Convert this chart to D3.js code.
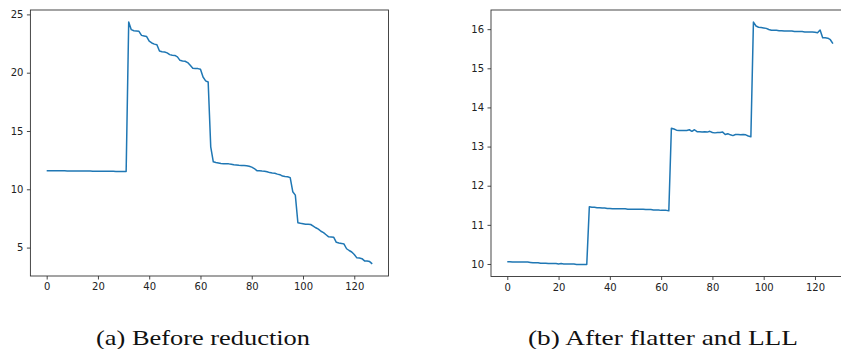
<!DOCTYPE html>
<html>
<head>
<meta charset="utf-8">
<script src="https://cdn.jsdelivr.net/npm/d3@7"></script>
<style>
    body { margin: 0; background: #fff; }
    svg { display: block; }
</style>
</head>
<body>
<div id="chart"></div>
<script>
// 数据 - 从图片读取
const beforeValues = [
    11.59, 11.59, 11.59, 11.58, 11.58, 11.58, 11.58, 11.58, 11.57, 11.57,
    11.57, 11.57, 11.57, 11.56, 11.56, 11.56, 11.56, 11.56, 11.55, 11.55,
    11.55, 11.55, 11.55, 11.55, 11.54, 11.54, 11.54, 11.53, 11.53, 11.53,
    11.52, 11.52,
    24.34, 23.69, 23.6, 23.58, 23.55, 23.2, 23.15, 23.1, 22.7, 22.55,
    22.45, 22.4, 21.86, 21.8, 21.78, 21.7, 21.55, 21.5, 21.48, 21.36,
    21.06, 21.0, 20.98, 20.87, 20.63, 20.38, 20.35, 20.35, 20.3, 19.63,
    19.3, 19.2,
    13.64, 12.36, 12.3, 12.26, 12.22, 12.2, 12.19, 12.18, 12.15, 12.1,
    12.08, 12.06, 12.05, 12.04, 12.02, 11.98, 11.9, 11.78, 11.6, 11.58,
    11.56, 11.55, 11.5, 11.43, 11.4, 11.38, 11.3, 11.25, 11.13, 11.1,
    11.08, 11.0,
    9.79, 9.5, 7.13, 7.08, 7.04, 7.0, 7.0, 6.98, 6.84, 6.7,
    6.58, 6.4, 6.28, 6.1, 5.92, 5.9, 5.88, 5.45, 5.4, 5.36,
    5.3, 4.9, 4.75, 4.62, 4.4, 4.12, 4.1, 4.05, 3.86, 3.85,
    3.8, 3.6
];

const afterValues = [
    10.06, 10.06, 10.05, 10.05, 10.05, 10.05, 10.05, 10.05, 10.05, 10.04,
    10.03, 10.03, 10.03, 10.02, 10.02, 10.02, 10.01, 10.01, 10.01, 10.01,
    10.00, 10.01, 10.00, 10.00, 10.00, 10.00, 10.00, 9.99, 9.99, 9.99,
    9.99, 9.99,
    11.46, 11.45, 11.45, 11.44, 11.44, 11.43, 11.43, 11.42, 11.42, 11.41,
    11.41, 11.41, 11.41, 11.41, 11.41, 11.40, 11.40, 11.40, 11.40, 11.40,
    11.40, 11.40, 11.39, 11.39, 11.39, 11.38, 11.38, 11.38, 11.37, 11.37,
    11.37, 11.36,
    13.47, 13.45, 13.42, 13.41, 13.41, 13.41, 13.41, 13.43, 13.39, 13.43,
    13.38, 13.38, 13.37, 13.38, 13.37, 13.39, 13.36, 13.35, 13.36, 13.36,
    13.37, 13.31, 13.33, 13.30, 13.28, 13.31, 13.31, 13.30, 13.31, 13.30,
    13.27, 13.25,
    16.18, 16.08, 16.05, 16.04, 16.03, 16.02, 15.99, 15.97, 15.97, 15.97,
    15.96, 15.96, 15.95, 15.95, 15.95, 15.95, 15.94, 15.94, 15.94, 15.94,
    15.93, 15.93, 15.93, 15.93, 15.92, 15.91, 15.98, 15.78, 15.78, 15.77,
    15.73, 15.63
];

const xTicks = [0, 20, 40, 60, 80, 100, 120];
const beforeYTicks = [5, 10, 15, 20, 25];
const afterYTicks = [10, 11, 12, 13, 14, 15, 16];
const captions = ["(a) Before reduction", "(b) After flatter and LLL"];

const svg = d3.select('#chart')
    .append('svg')
    .attr('width', 841)
    .attr('height', 349);

// 画一个子图 (matplotlib 风格, 5% 边距)
function drawPanel(values, yTicks, box, caption, capBox) {
    const idx = d3.range(values.length);
    const xPad = (values.length - 1) * 0.05;
    const [yMin, yMax] = d3.extent(values);
    const yPad = (yMax - yMin) * 0.05;

    const x = d3.scaleLinear()
        .domain([-xPad, values.length - 1 + xPad])
        .range([box.left, box.right]);
    const y = d3.scaleLinear()
        .domain([yMin - yPad, yMax + yPad])
        .range([box.bottom, box.top]);

    const g = svg.append('g');

    // 折线
    g.append('path')
        .datum(idx)
        .attr('fill', 'none')
        .attr('stroke', '#1f77b4')
        .attr('stroke-width', 1.5)
        .attr('stroke-linejoin', 'round')
        .attr('d', d3.line().x(i => x(i)).y(i => y(values[i])));

    // 坐标轴
    const xAxis = g.append('g')
        .attr('transform', `translate(0,${box.bottom})`)
        .call(d3.axisBottom(x).tickValues(xTicks).tickFormat(d3.format('d'))
            .tickSize(3.5).tickPadding(3.5));
    const yAxis = g.append('g')
        .attr('transform', `translate(${box.left},0)`)
        .call(d3.axisLeft(y).tickValues(yTicks).tickFormat(d3.format('d'))
            .tickSize(3.5).tickPadding(3.5));

    [xAxis, yAxis].forEach(a => {
        a.select('.domain').remove();
        a.selectAll('line').attr('stroke', '#333').attr('stroke-width', 0.9);
        a.selectAll('text')
            .style('font-family', 'DejaVu Sans')
            .style('font-size', '10px')
            .attr('fill', '#222');
    });

    // 边框
    g.append('rect')
        .attr('x', box.left)
        .attr('y', box.top)
        .attr('width', box.right - box.left)
        .attr('height', box.bottom - box.top)
        .attr('fill', 'none')
        .attr('stroke', '#333')
        .attr('stroke-width', 0.9);

    // 标题
    svg.append('text')
        .attr('x', capBox.x)
        .attr('y', capBox.y)
        .attr('textLength', capBox.w)
        .attr('lengthAdjust', 'spacingAndGlyphs')
        .style('font-family', 'Liberation Serif')
        .style('font-size', '22px')
        .attr('fill', '#111')
        .text(caption);
}

drawPanel(beforeValues, beforeYTicks,
    { left: 30.4, right: 388.5, top: 10, bottom: 276 },
    captions[0], { x: 96, y: 345, w: 214 });

drawPanel(afterValues, afterYTicks,
    { left: 491, right: 849.2, top: 10, bottom: 276.5 },
    captions[1], { x: 528, y: 345, w: 270 });
</script>
</body>
</html>
